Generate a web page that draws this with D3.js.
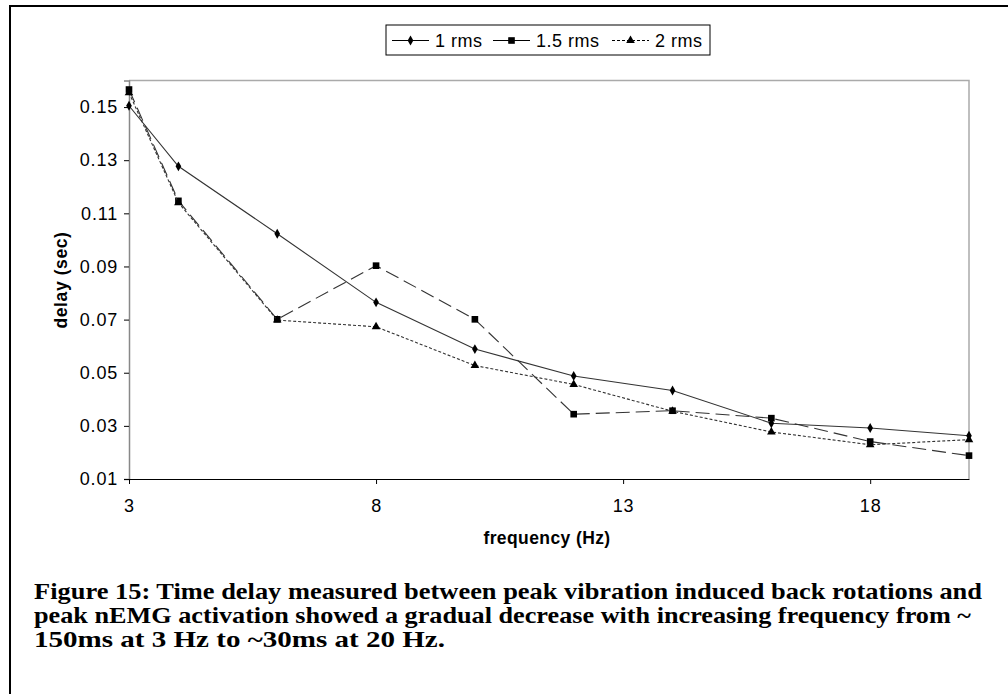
<!DOCTYPE html>
<html>
<head>
<meta charset="utf-8">
<script src="https://cdn.jsdelivr.net/npm/d3@7"></script>
<style>
  body { margin: 0; background: #fff; }
</style>
</head>
<body>
<div id="chart"></div>
<script>
// chart values
const freqs = [3, 4, 6, 8, 10, 12, 14, 16, 18, 20];
const rms1 = [0.1505, 0.1277, 0.1023, 0.0765, 0.0589, 0.0488, 0.0433, 0.0310, 0.0292, 0.0263];
const rms15 = [0.1566, 0.1147, 0.0701, 0.0903, 0.0701, 0.0344, 0.0357, 0.0329, 0.0241, 0.0188];
const rms2 = [0.1554, 0.1140, 0.0698, 0.0673, 0.0527, 0.0456, 0.0355, 0.0277, 0.0229, 0.0248];
const seriesNames = ['1 rms', '1.5 rms', '2 rms'];
const xTicks = [3, 8, 13, 18];
const yTicks = [0.01, 0.03, 0.05, 0.07, 0.09, 0.11, 0.13, 0.15];
const captionLines = [
  'Figure 15: Time delay measured between peak vibration induced back rotations and',
  'peak nEMG activation showed a gradual decrease with increasing frequency from ~',
  '150ms at 3 Hz to ~30ms at 20 Hz.'
];

const width = 1008, height = 694;
const plot = {left: 129, right: 969, top: 80.5, bottom: 479};
const sans = '"Liberation Sans", Arial, sans-serif';

const svg = d3.select('#chart').append('svg')
  .attr('width', width)
  .attr('height', height);

// page frame (top + left edges only)
svg.append('path')
  .attr('d', `M10,${height} V6 H${width}`)
  .attr('fill', 'none')
  .attr('stroke', '#000')
  .attr('stroke-width', 2);

const x = d3.scaleLinear().domain([3, 20]).range([plot.left, plot.right]);
const y = d3.scaleLinear().domain([0.01, 0.16]).range([plot.bottom, plot.top]);

// plot area border (grey)
svg.append('path')
  .attr('d', `M${plot.left},${plot.top} H${plot.right} V${plot.bottom}`)
  .attr('fill', 'none')
  .attr('stroke', '#aaa')
  .attr('stroke-width', 1.5);

const yAxis = svg.append('g')
  .attr('transform', `translate(${plot.left},0)`)
  .call(d3.axisLeft(y).tickValues(yTicks).tickFormat(d3.format('.2f')).tickSize(5).tickPadding(6));
yAxis.select('.domain').attr('stroke', '#888').attr('stroke-width', 1.5);
yAxis.selectAll('.tick line').attr('stroke', '#000');

const xAxis = svg.append('g')
  .attr('transform', `translate(0,${plot.bottom})`)
  .call(d3.axisBottom(x).tickValues(xTicks).tickFormat(d3.format('d')).tickSize(5).tickSizeOuter(0).tickPadding(15));
xAxis.select('.domain').attr('stroke', '#000').attr('stroke-width', 1.2);

svg.selectAll('.tick text')
  .style('font-family', sans)
  .style('font-size', '18px')
  .attr('letter-spacing', 0.8)
  .attr('fill', '#000');

// axis titles
svg.append('text')
  .attr('x', 547).attr('y', 544)
  .attr('text-anchor', 'middle')
  .style('font-family', sans)
  .style('font-size', '17.5px').style('font-weight', 'bold')
  .attr('letter-spacing', 0.4)
  .text('frequency (Hz)');

svg.append('text')
  .attr('transform', 'translate(67,280) rotate(-90)')
  .attr('text-anchor', 'middle')
  .style('font-family', sans)
  .style('font-size', '17.5px').style('font-weight', 'bold')
  .attr('letter-spacing', 0.6)
  .text('delay (sec)');

const series = [
  {name: seriesNames[0], values: rms1, dash: null, symbol: d3.symbolDiamond, size: 28},
  {name: seriesNames[1], values: rms15, dash: '14,6', symbol: d3.symbolSquare, size: 44},
  {name: seriesNames[2], values: rms2, dash: '3,2', symbol: d3.symbolTriangle, size: 32}
];

const line = d3.line()
  .x((d, i) => x(freqs[i]))
  .y(d => y(d));

series.forEach(s => {
  svg.append('path')
    .datum(s.values)
    .attr('d', line)
    .attr('fill', 'none')
    .attr('stroke', '#333')
    .attr('stroke-width', 1.1)
    .attr('stroke-dasharray', s.dash);

  svg.selectAll(null)
    .data(s.values).enter()
    .append('path')
    .attr('d', d3.symbol().type(s.symbol).size(s.size))
    .attr('transform', (d, i) => `translate(${x(freqs[i])},${y(d)})`)
    .attr('fill', '#000');
});

// legend
const legend = svg.append('g');
legend.append('rect')
  .attr('x', 386).attr('y', 25)
  .attr('width', 324).attr('height', 30)
  .attr('fill', '#fff')
  .attr('stroke', '#000');

const legendX = [392, 493, 612];
series.forEach((s, i) => {
  const lx = legendX[i];
  legend.append('line')
    .attr('x1', lx).attr('x2', lx + 37)
    .attr('y1', 40.5).attr('y2', 40.5)
    .attr('stroke', '#000')
    .attr('stroke-width', 1.1)
    .attr('stroke-dasharray', i === 2 ? '3,2' : null);
  legend.append('path')
    .attr('d', d3.symbol().type(s.symbol).size(s.size)())
    .attr('transform', `translate(${lx + 18.5},40.5)`)
    .attr('fill', '#000');
  legend.append('text')
    .attr('x', lx + 43).attr('y', 46.5)
    .style('font-family', sans)
    .style('font-size', '18px')
    .attr('letter-spacing', 0.5)
    .text(s.name);
});

// caption
const capWidths = [948, 937, 411];
svg.selectAll('.caption')
  .data(captionLines).enter()
  .append('text')
  .attr('class', 'caption')
  .attr('x', 34)
  .attr('y', (d, i) => 599 + i * 24)
  .style('font-family', '"Liberation Serif", "Times New Roman", serif')
  .style('font-weight', 'bold')
  .style('font-size', '23px')
  .attr('textLength', (d, i) => capWidths[i])
  .attr('lengthAdjust', 'spacingAndGlyphs')
  .text(d => d);
</script>
</body>
</html>
